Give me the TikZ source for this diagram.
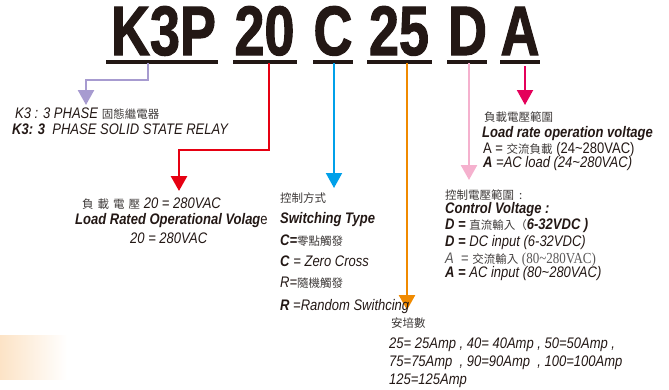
\documentclass[tikz,border=0pt]{standalone}
\usepackage{fontspec}
\setmainfont{Liberation Sans}[FakeStretch=0.85]
\newfontfamily\bigf{Liberation Sans}[FakeStretch=0.77,FakeBold=1.5]
\newfontfamily\cjkf{Noto Sans CJK TC}
\newfontfamily\serf{Liberation Serif}[FakeStretch=0.85]
\usetikzlibrary{arrows.meta}
\definecolor{ink}{HTML}{231815}
\definecolor{cjkgray}{HTML}{3E3A39}
\definecolor{lgray}{HTML}{595757}
\definecolor{cpurple}{HTML}{A79BD0}
\definecolor{cred}{HTML}{E60012}
\definecolor{cblue}{HTML}{00A0E9}
\definecolor{corange}{HTML}{F08A00}
\definecolor{cpink}{HTML}{F5B1CE}
\definecolor{ccrimson}{HTML}{E4005A}
\definecolor{cpeach}{HTML}{FCE3C6}
\newcommand{\bi}[1]{\textbf{\textit{#1}}}
\newcommand{\zh}[1]{{\cjkf\fontsize{11.5}{13}\selectfont\color{cjkgray}#1}}
\begin{document}
\begin{tikzpicture}[x=1pt,y=-1pt,
  txt/.style={anchor=base west, inner sep=0pt, font=\fontsize{15.3}{18}\selectfont, text=ink},
  bigtxt/.style={anchor=base, inner sep=0pt, font=\bigf\bfseries\fontsize{70}{70}\selectfont, text=ink},
  bar/.style={fill=ink},
  conn/.style={line join=miter, -{Triangle[width=16pt,length=15pt]}}]
\useasboundingbox (0,0) rectangle (669,389);
% background gradient
\shade[left color=cpeach, right color=white] (0,335) rectangle (67,379);
% big code letters
\node[bigtxt] (gK) at (163.5,55) {K3P};
\node[bigtxt] (g20) at (264.5,55) {20};
\node[bigtxt] (gC) at (333,55) {C};
\node[bigtxt] (g25) at (399,55) {25};
\node[bigtxt] (gD) at (467.5,55) {D};
\node[bigtxt] (gA) at (520,55) {A};
% underlines
\fill[bar] (106,60) rectangle (218,63.5);
\fill[bar] (233,60) rectangle (297,63.5);
\fill[bar] (313,60) rectangle (353,63.5);
\fill[bar] (367,60) rectangle (432,63.5);
\fill[bar] (447,60) rectangle (487,63.5);
\fill[bar] (500,60) rectangle (540,63.5);
% connector coordinates
\coordinate (tP) at (148,63);
\coordinate (tR) at (269,63);
\coordinate (tB) at (334,63);
\coordinate (tO) at (407,63);
\coordinate (tK) at (469,63);
\coordinate (tC) at (525,66);
\coordinate (eP) at (86,105);
\coordinate (eR) at (179,191);
\coordinate (eB) at (334,188);
\coordinate (eO) at (407,310);
\coordinate (eK) at (469,180);
\coordinate (eC) at (525,105);
\draw[conn, cpurple, line width=2.5pt] (tP) -- (148,80) -| (eP);
\draw[conn, cred, line width=2.8pt] (tR) -- (269,150) -| (eR);
\draw[conn, cblue, line width=2pt] (tB) -- (eB);
\draw[conn, corange, line width=2.5pt] (tO) -- (eO);
\draw[conn, cpink, line width=2.5pt] (tK) -- (eK);
\draw[conn, ccrimson, line width=2pt] (tC) -- (eC);
% K3 block
\node[txt] (k3a) at (15,118) {\textit{K3 : 3 PHASE }\zh{固態繼電器}};
\node[txt] (k3b) at (12,134.5) {\bi{K3: 3}\textit{\ \ PHASE SOLID STATE RELAY}};
% load rated voltage block
\node[txt] (r1) at (82,208) {\zh{負\hspace{4pt}載\hspace{4pt}電\hspace{4pt}壓}\textit{ 20 = 280VAC}};
\node[txt] (r2) at (75,224) {\bi{Load Rated Operational Volag}e};
\node[txt] (r3) at (130,243) {\textit{20 = 280VAC}};
% switching type block
\node[txt] (s1) at (280,202) {\zh{控制方式}};
\node[txt] (s2) at (280,223) {\bi{Switching Type}};
\node[txt] (s3) at (280,245) {\bi{C=}\zh{零點觸發}};
\node[txt] (s4) at (280,266) {\bi{C}\textit{ = Zero Cross}};
\node[txt] (s5) at (280,287) {\textit{R=}\zh{隨機觸發}};
\node[txt] (s6) at (280,310) {\bi{R}\textit{ =Random Swithcing}};
% ampere block
\node[txt] (o1) at (391,327) {\zh{安培數}};
\node[txt] (o2) at (389,348) {\textit{25= 25Amp , 40= 40Amp , 50=50Amp ,}};
\node[txt] (o3) at (389,366) {\textit{75=75Amp \ , 90=90Amp \ , 100=100Amp}};
\node[txt] (o4) at (389,384) {\textit{125=125Amp}};
% load rate operation voltage block
\node[txt] (l1) at (484,121) {\zh{負載電壓範圍}};
\node[txt] (l2) at (482,137) {\bi{Load rate operation voltage}};
\node[txt] (l3) at (483,153) {A = \zh{交流負載} (24\textasciitilde280VAC)};
\node[txt] (l4) at (483,167) {\bi{A}\textit{ =AC load (24\textasciitilde280VAC)}};
% control voltage block
\node[txt] (c1) at (445,199) {\zh{控制電壓範圍\hspace{5pt}:}};
\node[txt] (c2) at (445,213) {\bi{Control Voltage :}};
\node[txt] (c3) at (445,229) {\bi{D =} \zh{直流輸入（}\bi{6-32VDC )}};
\node[txt] (c4) at (445,246) {\bi{D =}\textit{ DC input (6-32VDC)}};
\node[txt] (c5) at (445,263) {\textcolor{lgray}{\textit{A}\ \ = \zh{交流輸入}\ {\serf (80\textasciitilde280VAC)}}};
\node[txt] (c6) at (445,277) {\bi{A =}\textit{ AC input (80\textasciitilde280VAC)}};
\end{tikzpicture}
\end{document}
